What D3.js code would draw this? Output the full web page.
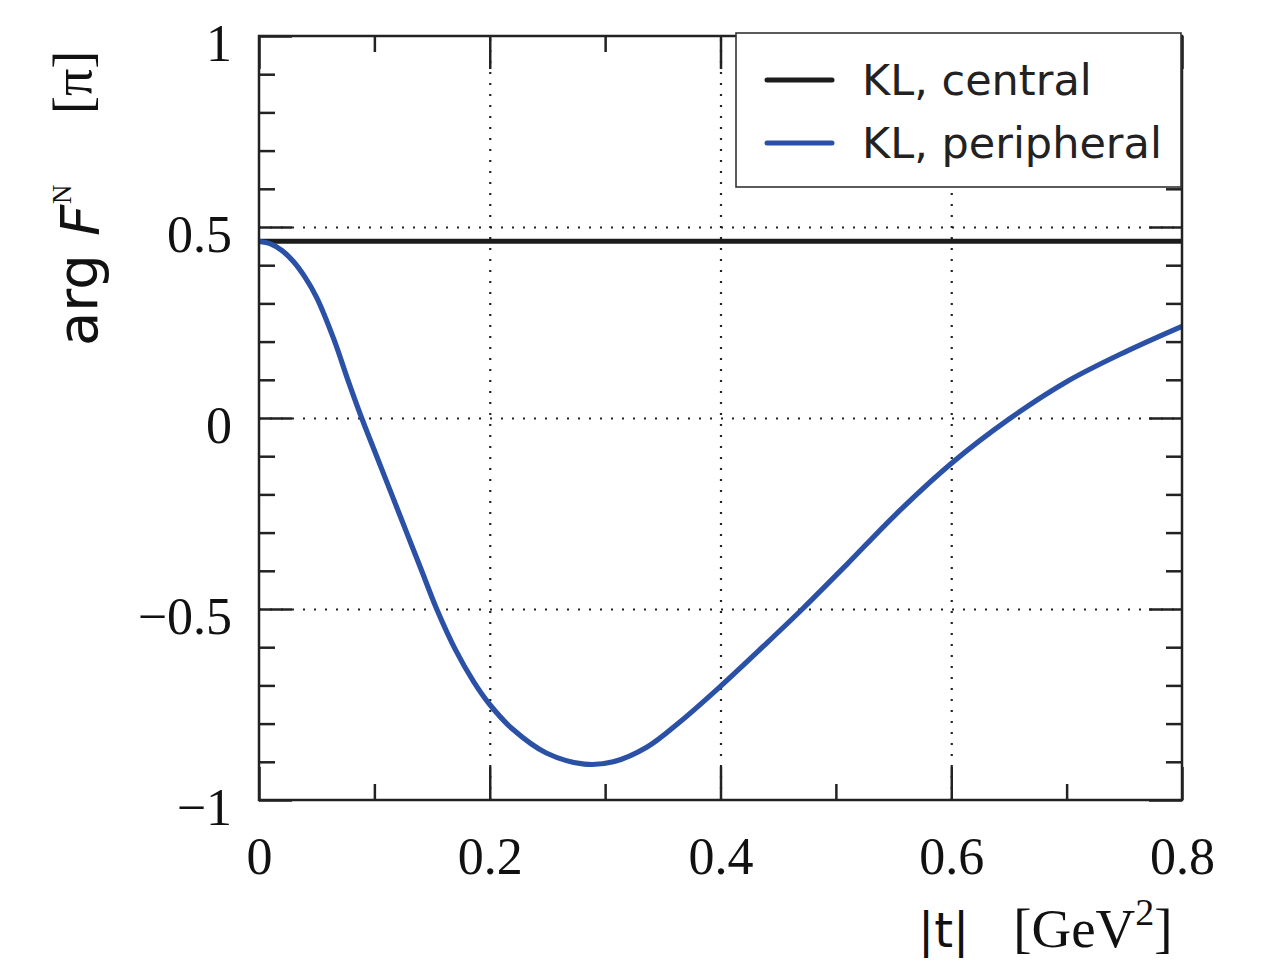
<!DOCTYPE html>
<html>
<head>
<meta charset="utf-8">
<script src="https://cdn.jsdelivr.net/npm/d3@7"></script>
<style>
  body { margin: 0; background: #fff; }
  svg { display: block; }
</style>
</head>
<body>
<svg width="1272" height="964"></svg>
<script>
// |t| in GeV^2 and the phase arg F^N in units of pi
const tPeripheral = [0, 0.01, 0.02, 0.03, 0.04, 0.05, 0.065, 0.077, 0.089, 0.102, 0.115, 0.128,
  0.141, 0.154, 0.17, 0.186, 0.2, 0.22, 0.249, 0.282, 0.307, 0.336, 0.365, 0.399, 0.437,
  0.471, 0.509, 0.552, 0.6, 0.65, 0.7, 0.75, 0.8];
const argPeripheral = [0.462, 0.456, 0.438, 0.409, 0.368, 0.315, 0.205, 0.1, 0.0, -0.1, -0.2, -0.3,
  -0.4, -0.5, -0.605, -0.69, -0.75, -0.815, -0.877, -0.906, -0.9, -0.862, -0.795, -0.705, -0.598,
  -0.5, -0.385, -0.252, -0.119, -0.003, 0.095, 0.172, 0.24];
const tCentral = [0, 0.8];
const argCentral = [0.463, 0.463];

const seriesNames = ["KL, central", "KL, peripheral"];
const seriesColors = ["#1c1c1c", "#2a51a6"];

const xMajor = [0, 0.2, 0.4, 0.6, 0.8];
const xMajorLabels = ["0", "0.2", "0.4", "0.6", "0.8"];
const xMinor = [0.1, 0.3, 0.5, 0.7];
const yMajor = [-1, -0.5, 0, 0.5, 1];
const yMajorLabels = ["\u22121", "\u22120.5", "0", "0.5", "1"];
const yMinor = [-0.9, -0.8, -0.7, -0.6, -0.4, -0.3, -0.2, -0.1, 0.1, 0.2, 0.3, 0.4, 0.6, 0.7, 0.8, 0.9];
const xGrid = [0.2, 0.4, 0.6];
const yGrid = [-0.5, 0, 0.5];

(function() {
  const svg = d3.select("svg");
  const mLeft = 259, mRight = 1182, mTop = 36, mBottom = 800;
  const w = mRight - mLeft, h = mBottom - mTop;
  const serif = "'Liberation Serif', 'Times New Roman', serif";
  const sans = "'DejaVu Sans', sans-serif";

  const x = d3.scaleLinear().domain([0, 0.8]).range([0, w]);
  const y = d3.scaleLinear().domain([-1, 1]).range([h, 0]);

  const plot = svg.append("g").attr("transform", `translate(${mLeft},${mTop})`);

  // dotted grid
  const grid = plot.append("g");
  grid.append("g")
    .attr("transform", `translate(0,${h})`)
    .call(d3.axisBottom(x).tickValues(xGrid).tickSize(-h).tickFormat(""));
  grid.append("g")
    .call(d3.axisLeft(y).tickValues(yGrid).tickSize(-w).tickFormat(""));
  grid.selectAll(".domain").remove();
  grid.selectAll(".tick line")
    .attr("stroke", "#222").attr("stroke-width", 2.2)
    .attr("stroke-dasharray", "2,9");

  // curves
  const line = d3.line().x(d => x(d[0])).y(d => y(d[1])).curve(d3.curveCatmullRom.alpha(0.5));
  plot.append("path")
    .attr("d", line(d3.zip(tCentral, argCentral)))
    .attr("fill", "none").attr("stroke", seriesColors[0]).attr("stroke-width", 5);
  plot.append("path")
    .attr("d", line(d3.zip(tPeripheral, argPeripheral)))
    .attr("fill", "none").attr("stroke", seriesColors[1]).attr("stroke-width", 5.2);

  // frame ticks, pointing inward on all four sides
  function ticks(axis, vals, size, tf) {
    return axis.tickValues(vals).tickSize(size).tickFormat(tf || "");
  }
  const axes = plot.append("g");
  axes.append("g").attr("transform", `translate(0,${h})`)
    .call(ticks(d3.axisBottom(x), xMajor, -33, (d, i) => xMajorLabels[i]).tickPadding(37));
  axes.append("g").attr("transform", `translate(0,${h})`)
    .call(ticks(d3.axisBottom(x), xMinor, -16));
  axes.append("g").call(ticks(d3.axisTop(x), xMajor, -33));
  axes.append("g").call(ticks(d3.axisTop(x), xMinor, -16));
  const yl = axes.append("g")
    .call(ticks(d3.axisLeft(y), yMajor, -33, (d, i) => yMajorLabels[i]).tickPadding(27));
  axes.append("g").call(ticks(d3.axisLeft(y), yMinor, -16));
  axes.append("g").attr("transform", `translate(${w},0)`).call(ticks(d3.axisRight(y), yMajor, -33));
  axes.append("g").attr("transform", `translate(${w},0)`).call(ticks(d3.axisRight(y), yMinor, -16));
  axes.selectAll(".domain").remove();
  axes.selectAll(".tick line").attr("stroke", "#222").attr("stroke-width", 2.5);
  axes.selectAll("text").attr("font-family", serif).attr("font-size", 52).attr("fill", "#111");
  yl.selectAll("text").attr("dy", "0.48em");

  plot.append("rect")
    .attr("width", w).attr("height", h)
    .attr("fill", "none").attr("stroke", "#222").attr("stroke-width", 2.5);

  // legend
  const legend = svg.append("g");
  legend.append("rect")
    .attr("x", 736).attr("y", 33).attr("width", 445).attr("height", 154)
    .attr("fill", "#fff").attr("stroke", "#333").attr("stroke-width", 1.6);
  seriesNames.forEach((name, i) => {
    const ly = 80 + i * 63;
    legend.append("line")
      .attr("x1", 767).attr("x2", 832).attr("y1", ly).attr("y2", ly)
      .attr("stroke", seriesColors[i]).attr("stroke-width", 5).attr("stroke-linecap", "round");
    legend.append("text")
      .attr("x", 862).attr("y", ly + 15)
      .attr("font-family", sans).attr("font-size", 43).attr("fill", "#222")
      .text(name);
  });

  // x title
  const xt = svg.append("text").attr("x", 918).attr("y", 947).attr("fill", "#111");
  xt.append("tspan").attr("font-family", sans).attr("font-size", 48).text("|t|");
  xt.append("tspan").attr("font-family", serif).attr("font-size", 55).attr("dx", 44).text("[GeV");
  xt.append("tspan").attr("font-family", serif).attr("font-size", 38).attr("dy", -22).text("2");
  xt.append("tspan").attr("font-family", serif).attr("font-size", 55).attr("dy", 22).text("]");

  // y title, pieces placed along the rotated baseline
  function yPiece(yPos, xPos, txt, family, size, italic) {
    svg.append("text")
      .attr("transform", `translate(${xPos},${yPos}) rotate(-90)`)
      .attr("font-family", family).attr("font-size", size)
      .attr("font-style", italic ? "italic" : "normal")
      .attr("fill", "#111").text(txt);
  }
  yPiece(346, 97, "arg", sans, 56);
  yPiece(236, 99, "F", sans, 54, true);
  yPiece(204, 71, "N", serif, 27);
  yPiece(114, 91, "[\u03c0]", serif, 54);
})();
</script>
</body>
</html>
